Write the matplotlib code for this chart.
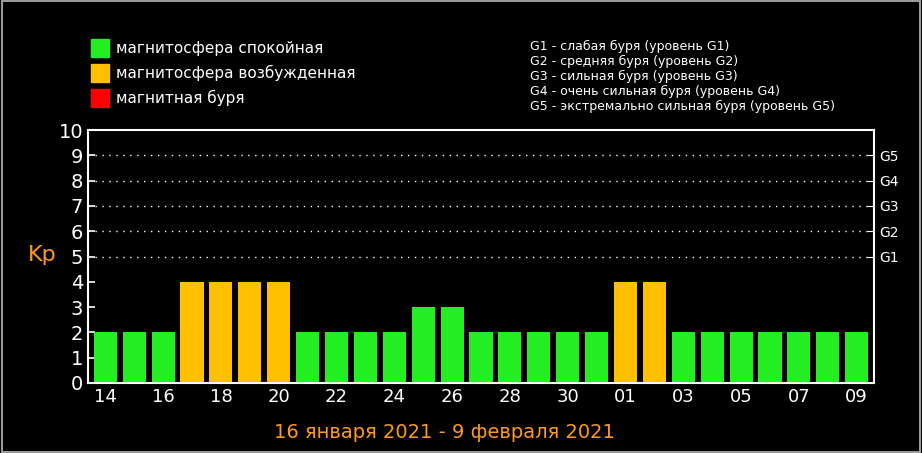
import matplotlib
matplotlib.use("Agg")
import matplotlib.pyplot as plt
from matplotlib.patches import Rectangle

days = ["14","15","16","17","18","19","20","21","22","23","24","25","26","27","28","29","30","31","01","02","03","04","05","06","07","08","09"]
kp = [2,2,2,4,4,4,4,2,2,2,2,3,3,2,2,2,2,2,4,4,2,2,2,2,2,2,2]
g_levels = [5,6,7,8,9]
g_labels = ["G1","G2","G3","G4","G5"]

GREEN = "#22ee22"; ORANGE = "#ffc000"; RED = "#ff0000"
colors = [ORANGE if v >= 4 else GREEN if v < 4 else RED for v in kp]
colors = [GREEN if v < 4 else (ORANGE if v < 5 else RED) for v in kp]

fig = plt.figure(figsize=(9.22, 4.53), dpi=100, facecolor="black")
ax = fig.add_axes([88/922, 1-383/453, 786/922, 253/453], facecolor="black")
x = list(range(len(days)))
ax.bar(x, kp, width=0.8, color=colors, edgecolor="none", zorder=2)
ax.set_xlim(-0.6, len(days)-0.4)
ax.set_ylim(0, 10)
for lv in g_levels:
    ax.axhline(lv, color="white", ls=(0, (1, 4)), lw=1, zorder=1)
for s in ax.spines.values():
    s.set_color("white"); s.set_linewidth(1.5)
ax.set_yticks(range(0, 11))
ax.tick_params(axis="y", colors="white", labelsize=14, direction="in", length=5, width=1.2)
ax.set_xticks(x[::2])
ax.set_xticklabels(days[::2])
ax.tick_params(axis="x", colors="white", labelsize=13, direction="in", length=4, width=1.2)
ax.set_xticks(x, minor=True)
ax.tick_params(axis="x", which="minor", direction="in", length=3, color="white")
ax2 = ax.twinx()
ax2.set_ylim(0, 10)
ax2.set_yticks(g_levels)
ax2.set_yticklabels(g_labels)
ax2.tick_params(axis="y", colors="white", labelsize=10, direction="in", length=5)
for s in ax2.spines.values():
    s.set_visible(False)
fig.text(28/922, 1-255/453, "Kp", color="#ff9a1e", fontsize=16, va="center")
fig.text(444/922, 1-433/453, "16 января 2021 - 9 февраля 2021", color="#ff9a1e",
         fontsize=14, ha="center", va="center")
leg = [(GREEN, "магнитосфера спокойная", 48), (ORANGE, "магнитосфера возбужденная", 73), (RED, "магнитная буря", 98)]
for c, t, y in leg:
    fig.patches.append(Rectangle((91/922, 1-(y+9)/453), 18/922, 18/453, color=c, transform=fig.transFigure))
    fig.text(116/922, 1-y/453, t, color="white", fontsize=11, va="center")
glines = ["G1 - слабая буря (уровень G1)", "G2 - средняя буря (уровень G2)",
          "G3 - сильная буря (уровень G3)", "G4 - очень сильная буря (уровень G4)",
          "G5 - экстремально сильная буря (уровень G5)"]
for i, t in enumerate(glines):
    fig.text(530/922, 1-(46+15*i)/453, t, color="white", fontsize=9, va="center")
fig.patches.append(Rectangle((0.002, 0.002), 0.996, 0.996, fill=False, ec="#999999", lw=1.5, transform=fig.transFigure))
fig.savefig("out.png", dpi=100, facecolor="black")
